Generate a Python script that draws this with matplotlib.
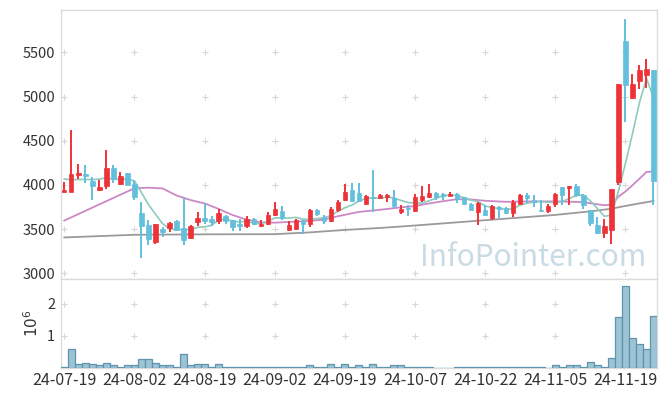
import matplotlib
matplotlib.use("Agg")
import matplotlib.pyplot as plt
import numpy as np

# ---------------- data ----------------
date_labels = ["24-07-19", "24-08-02", "24-08-19", "24-09-02", "24-09-19",
               "24-10-07", "24-10-22", "24-11-05", "24-11-19"]
label_pos = [0, 10, 20, 30, 40, 50, 60, 70, 80]

opens = [3919, 3923, 4115, 4123, 4043, 3945, 3990, 4191, 4013, 4134,
         4006, 3681, 3545, 3356, 3500, 3507, 3594, 3511, 3395, 3579,
         3624, 3613, 3587, 3643, 3598, 3560, 3538, 3617, 3530, 3560,
         3658, 3699, 3487, 3506, 3592, 3562, 3713, 3638, 3592, 3713,
         3834, 3947, 3909, 3785, 3860, 3852, 3864, 3852, 3694, 3743,
         3705, 3834, 3864, 3909, 3894, 3875, 3901, 3864, 3788, 3694,
         3713, 3630, 3751, 3743, 3683, 3788, 3883, 3826, 3713, 3705,
         3788, 3973, 3966, 3984, 3883, 3713, 3551, 3457, 3494, 4034,
         5624, 4987, 5176, 5240, 5296]
highs = [4028, 4621, 4236, 4224, 4092, 4055, 4394, 4224, 4149, 4134,
         4055, 3809, 3602, 3557, 3526, 3583, 3600, 3850, 3549, 3692,
         3793, 3643, 3726, 3662, 3605, 3613, 3643, 3628, 3605, 3692,
         3805, 3763, 3590, 3619, 3600, 3732, 3732, 3656, 3751, 3826,
         4015, 4022, 4022, 3883, 4165, 3900, 3901, 3939, 3770, 3770,
         3901, 3984, 4007, 3917, 3909, 3920, 3909, 3864, 3796, 3807,
         3770, 3770, 3758, 3751, 3826, 3900, 3909, 3883, 3826, 3781,
         3909, 3973, 3984, 4007, 3901, 3720, 3638, 3619, 3951, 5138,
         5881, 5259, 5360, 5428, 5296]
lows = [3904, 3923, 4062, 4017, 3828, 3930, 3949, 4017, 3994, 3994,
        3828, 3175, 3319, 3330, 3406, 3462, 3474, 3323, 3387, 3538,
        3560, 3538, 3560, 3560, 3474, 3474, 3511, 3549, 3523, 3549,
        3647, 3605, 3480, 3487, 3449, 3525, 3645, 3562, 3581, 3694,
        3819, 3807, 3807, 3770, 3694, 3845, 3807, 3743, 3668, 3645,
        3694, 3807, 3856, 3834, 3834, 3870, 3796, 3781, 3713, 3551,
        3645, 3607, 3630, 3675, 3638, 3780, 3796, 3751, 3694, 3687,
        3751, 3770, 3770, 3864, 3732, 3532, 3442, 3393, 3336, 3996,
        4712, 4976, 5089, 5100, 3770]
closes = [3941, 4123, 4138, 4104, 3990, 3975, 4191, 4062, 4100, 4002,
          3866, 3534, 3383, 3557, 3470, 3564, 3493, 3380, 3538, 3624,
          3587, 3579, 3680, 3587, 3523, 3538, 3617, 3560, 3560, 3662,
          3729, 3624, 3545, 3600, 3562, 3713, 3668, 3592, 3724, 3804,
          3917, 3819, 3815, 3871, 3850, 3890, 3883, 3766, 3732, 3730,
          3864, 3871, 3909, 3864, 3879, 3901, 3845, 3788, 3720, 3796,
          3656, 3758, 3732, 3683, 3807, 3883, 3856, 3807, 3705, 3758,
          3901, 3883, 3984, 3883, 3777, 3570, 3457, 3532, 3951, 5138,
          5131, 5138, 5304, 5315, 4045]

# 5-day average line
ma5 = [4066, 4058, 4060, 4062, 4059, 4066, 4080, 4064, 4064, 4066,
       4044, 3913, 3777, 3668, 3562, 3502, 3493, 3493, 3489, 3520,
       3524, 3542, 3602, 3611, 3591, 3581, 3589, 3565, 3560, 3587,
       3626, 3627, 3624, 3632, 3612, 3609, 3618, 3627, 3652, 3700,
       3741, 3771, 3816, 3845, 3854, 3849, 3862, 3852, 3824, 3800,
       3795, 3793, 3821, 3848, 3877, 3885, 3880, 3855, 3827, 3810,
       3761, 3744, 3732, 3725, 3727, 3773, 3792, 3807, 3812, 3802,
       3805, 3811, 3846, 3882, 3886, 3819, 3734, 3644, 3657, 3930,
       4242, 4578, 4932, 5205, 4987]

# 20-day average line (read points)
ma20_x = [0, 10, 12, 14, 16, 18, 20, 22, 24, 26, 28, 30, 32, 35, 37, 39,
          42, 45, 48, 50, 52, 54, 56, 58, 60, 63, 65, 70, 74, 76, 77, 78,
          79, 80, 81, 82, 83, 84]
ma20_y = [3596, 3962, 3968, 3960, 3880, 3828, 3790, 3728, 3658, 3607,
          3575, 3572, 3580, 3592, 3607, 3645, 3694, 3718, 3745, 3760,
          3790, 3815, 3838, 3835, 3820, 3808, 3812, 3813, 3805, 3780,
          3770, 3775, 3866, 3925, 3996, 4070, 4147, 4151]

# long average line (read points)
malong_x = [0, 10, 20, 30, 35, 40, 45, 50, 55, 60, 65, 70, 75, 78, 80, 82, 84]
malong_y = [3405, 3435, 3440, 3442, 3462, 3490, 3512, 3540, 3570, 3600,
            3630, 3660, 3700, 3730, 3762, 3790, 3818]

# volume in millions
volume = [0.03, 0.57, 0.10, 0.14, 0.10, 0.07, 0.14, 0.07, 0.03, 0.07,
          0.07, 0.26, 0.26, 0.14, 0.07, 0.07, 0.03, 0.42, 0.07, 0.10,
          0.10, 0.03, 0.10, 0.02, 0.02, 0.02, 0.02, 0.02, 0.02, 0.02,
          0.02, 0.02, 0.02, 0.02, 0.02, 0.07, 0.02, 0.02, 0.10, 0.02,
          0.10, 0.02, 0.07, 0.02, 0.10, 0.02, 0.02, 0.07, 0.07, 0.02,
          0.02, 0.02, 0.02, 0.0, 0.0, 0.0, 0.02, 0.02, 0.02, 0.02,
          0.02, 0.02, 0.02, 0.02, 0.02, 0.02, 0.02, 0.02, 0.02, 0.0,
          0.07, 0.02, 0.07, 0.07, 0.02, 0.17, 0.07, 0.02, 0.30, 1.58,
          2.57, 0.92, 0.74, 0.58, 1.62]

price_ticks = [3000, 3500, 4000, 4500, 5000, 5500]
vol_ticks = [1, 2]

# ---------------- style ----------------
UP = "#ee3338"
DOWN = "#63bfdc"
TEAL = "#8ccbbd"
PINK = "#cc88c6"
GRAY = "#9a9a9a"
BORDER = "#dcdcdc"
CROSS = "#d6d6d6"
TXT = "#333333"

plt.rcParams['font.family'] = ['Noto Sans CJK KR', 'DejaVu Sans']

fig = plt.figure(figsize=(6.65, 3.96), dpi=100)
W, H = 665.0, 396.0
x0, x1 = 60.8, 657.0
ax = fig.add_axes([x0 / W, 1 - 278.5 / H, (x1 - x0) / W, (278.5 - 10) / H])
axv = fig.add_axes([x0 / W, 1 - 367.5 / H, (x1 - x0) / W, (367.5 - 278.5) / H])

n = len(closes)
idx = np.arange(n)
o = np.array(opens, float)
c = np.array(closes, float)
h = np.array(highs, float)
l = np.array(lows, float)
up = c >= o
colors = np.where(up, UP, DOWN)

# grid crosses at tick intersections
for a, yt in ((ax, price_ticks), (axv, vol_ticks)):
    gx, gy = np.meshgrid(label_pos, yt)
    a.plot(gx.ravel(), gy.ravel(), linestyle="none", marker="+", ms=5,
           mew=0.8, color=CROSS, zorder=0)

# moving average lines
ax.plot(malong_x, malong_y, color=GRAY, lw=1.3, zorder=2)
ax.plot(ma20_x, ma20_y, color=PINK, lw=1.3, zorder=2)
ax.plot(idx, ma5, color=TEAL, lw=1.2, zorder=2)

# candles
ax.vlines(idx, l, h, colors=colors, lw=1.4, zorder=3)
body_bottom = np.minimum(o, c)
body_h = np.maximum(np.abs(c - o), 8)
ax.bar(idx, body_h, bottom=body_bottom, width=0.62, color=colors,
       edgecolor=colors, lw=0.5, zorder=4)

ax.set_xlim(-0.5, n - 0.5)
ax.set_ylim(2940, 5980)
ax.set_yticks(price_ticks)
ax.set_yticklabels([str(t) for t in price_ticks])
ax.set_xticks([])

ax.text(0.982, 0.022, "InfoPointer.com", transform=ax.transAxes,
        ha="right", va="bottom", fontsize=21.5, color="#c9dbe5", zorder=1)

# volume
axv.bar(idx, volume, width=1.0, color="#9dc3d5", edgecolor="#5d94ae",
        lw=0.9, zorder=3)
axv.set_xlim(-0.5, n - 0.5)
axv.set_ylim(0, 2.80)
axv.set_yticks(vol_ticks)
axv.set_yticklabels(["1", "2"])
axv.set_xticks(label_pos)
axv.set_xticklabels(date_labels)
axv.set_ylabel(r"$10^{6}$", fontsize=11, color=TXT, labelpad=4)

for a in (ax, axv):
    for s in a.spines.values():
        s.set_color(BORDER)
        s.set_linewidth(1.0)
    a.tick_params(length=0, labelsize=10.5, colors=TXT, pad=4)
axv.tick_params(axis="x", labelsize=11.5, pad=3)

fig.savefig("out.png", dpi=100)
